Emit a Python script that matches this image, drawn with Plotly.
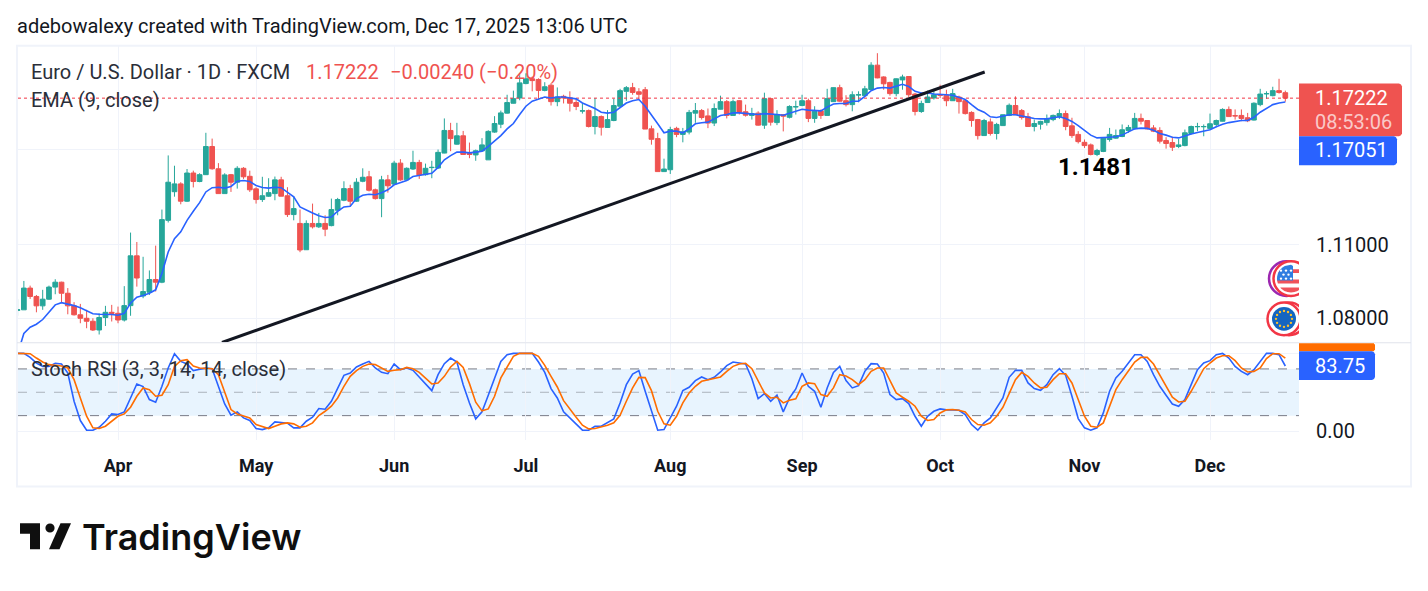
import math
import numpy as np
import pandas as pd
import plotly.graph_objects as go

# ---------------------------------------------------------------- data
dates = pd.bdate_range("2025-03-10", periods=203)
month_starts = ["2025-04-01", "2025-05-01", "2025-06-02", "2025-07-01", "2025-08-01",
                "2025-09-01", "2025-10-01", "2025-11-03", "2025-12-01"]
month_labels = ["Apr", "May", "Jun", "Jul", "Aug", "Sep", "Oct", "Nov", "Dec"]

opens = [
    1.0832, 1.0834, 1.0922, 1.0888, 1.0850, 1.0877, 1.0926, 1.0946, 1.0901, 1.0850,
    1.0814, 1.0800, 1.0788, 1.0753, 1.0803, 1.0824, 1.0820, 1.0793, 1.0851, 1.1054,
    1.0890, 1.0905, 1.0957, 1.0946, 1.1201, 1.1321, 1.1354, 1.1281, 1.1400, 1.1364,
    1.1393, 1.1513, 1.1418, 1.1313, 1.1393, 1.1361, 1.1420, 1.1386, 1.1333, 1.1288,
    1.1302, 1.1313, 1.1371, 1.1304, 1.1225, 1.1188, 1.1079, 1.1188, 1.1174, 1.1188,
    1.1179, 1.1243, 1.1285, 1.1334, 1.1281, 1.1365, 1.1384, 1.1329, 1.1292, 1.1371,
    1.1353, 1.1442, 1.1371, 1.1417, 1.1445, 1.1393, 1.1423, 1.1421, 1.1485, 1.1582,
    1.1523, 1.1559, 1.1484, 1.1477, 1.1494, 1.1456, 1.1575, 1.1609, 1.1657, 1.1700,
    1.1723, 1.1786, 1.1807, 1.1804, 1.1756, 1.1779, 1.1707, 1.1730, 1.1723, 1.1703,
    1.1666, 1.1668, 1.1599, 1.1642, 1.1595, 1.1625, 1.1687, 1.1752, 1.1768, 1.1750,
    1.1759, 1.1589, 1.1547, 1.1406, 1.1414, 1.1591, 1.1565, 1.1575, 1.1657, 1.1668,
    1.1645, 1.1614, 1.1674, 1.1707, 1.1647, 1.1711, 1.1663, 1.1647, 1.1657, 1.1605,
    1.1720, 1.1616, 1.1650, 1.1639, 1.1684, 1.1690, 1.1711, 1.1634, 1.1667, 1.1647,
    1.1707, 1.1768, 1.1711, 1.1694, 1.1736, 1.1733, 1.1760, 1.1867, 1.1815, 1.1791,
    1.1742, 1.1802, 1.1817, 1.1740, 1.1664, 1.1703, 1.1723, 1.1737, 1.1735, 1.1711,
    1.1727, 1.1711, 1.1660, 1.1629, 1.1560, 1.1619, 1.1569, 1.1603, 1.1647, 1.1690,
    1.1668, 1.1641, 1.1599, 1.1609, 1.1616, 1.1629, 1.1641, 1.1655, 1.1602, 1.1565,
    1.1531, 1.1520, 1.1479, 1.1492, 1.1543, 1.1549, 1.1556, 1.1582, 1.1591, 1.1634,
    1.1625, 1.1593, 1.1582, 1.1539, 1.1530, 1.1513, 1.1517, 1.1569, 1.1598, 1.1598,
    1.1591, 1.1608, 1.1622, 1.1673, 1.1646, 1.1647, 1.1637, 1.1627, 1.1694, 1.1741,
    1.1733, 1.1755, 1.1746,
]
highs = [
    1.0877, 1.0951, 1.0932, 1.0894, 1.0915, 1.0932, 1.0958, 1.0948, 1.0922, 1.0865,
    1.0858, 1.0834, 1.0800, 1.0820, 1.0850, 1.0854, 1.0847, 1.0930, 1.1150, 1.1111,
    1.1050, 1.0994, 1.1096, 1.1246, 1.1475, 1.1431, 1.1361, 1.1417, 1.1410, 1.1399,
    1.1572, 1.1547, 1.1442, 1.1399, 1.1396, 1.1429, 1.1425, 1.1410, 1.1340, 1.1384,
    1.1378, 1.1385, 1.1384, 1.1340, 1.1303, 1.1246, 1.1201, 1.1271, 1.1232, 1.1222,
    1.1292, 1.1295, 1.1365, 1.1350, 1.1378, 1.1420, 1.1409, 1.1334, 1.1388, 1.1392,
    1.1452, 1.1459, 1.1424, 1.1495, 1.1456, 1.1440, 1.1452, 1.1500, 1.1634, 1.1615,
    1.1615, 1.1580, 1.1530, 1.1500, 1.1549, 1.1583, 1.1644, 1.1668, 1.1737, 1.1755,
    1.1831, 1.1831, 1.1817, 1.1809, 1.1792, 1.1788, 1.1769, 1.1737, 1.1752, 1.1719,
    1.1701, 1.1673, 1.1723, 1.1647, 1.1670, 1.1720, 1.1763, 1.1775, 1.1789, 1.1766,
    1.1771, 1.1603, 1.1572, 1.1461, 1.1598, 1.1598, 1.1593, 1.1671, 1.1701, 1.1675,
    1.1677, 1.1699, 1.1733, 1.1714, 1.1716, 1.1714, 1.1694, 1.1680, 1.1665, 1.1746,
    1.1723, 1.1670, 1.1651, 1.1691, 1.1711, 1.1737, 1.1720, 1.1687, 1.1673, 1.1763,
    1.1769, 1.1781, 1.1735, 1.1752, 1.1752, 1.1776, 1.1880, 1.1920, 1.1818, 1.1794,
    1.1809, 1.1825, 1.1819, 1.1745, 1.1711, 1.1755, 1.1763, 1.1781, 1.1759, 1.1763,
    1.1733, 1.1716, 1.1665, 1.1632, 1.1632, 1.1634, 1.1615, 1.1651, 1.1699, 1.1730,
    1.1675, 1.1658, 1.1629, 1.1624, 1.1651, 1.1651, 1.1673, 1.1668, 1.1637, 1.1579,
    1.1543, 1.1526, 1.1503, 1.1553, 1.1593, 1.1586, 1.1608, 1.1606, 1.1658, 1.1655,
    1.1625, 1.1605, 1.1596, 1.1553, 1.1555, 1.1546, 1.1586, 1.1603, 1.1615, 1.1608,
    1.1655, 1.1629, 1.1678, 1.1686, 1.1673, 1.1673, 1.1658, 1.1704, 1.1763, 1.1752,
    1.1772, 1.1807, 1.1755,
]
lows = [
    1.0810, 1.0834, 1.0878, 1.0824, 1.0834, 1.0874, 1.0897, 1.0865, 1.0816, 1.0811,
    1.0780, 1.0760, 1.0749, 1.0735, 1.0769, 1.0787, 1.0780, 1.0787, 1.0810, 1.0928,
    1.0881, 1.0894, 1.0908, 1.0942, 1.1192, 1.1300, 1.1268, 1.1278, 1.1339, 1.1361,
    1.1392, 1.1414, 1.1313, 1.1313, 1.1320, 1.1334, 1.1375, 1.1320, 1.1271, 1.1278,
    1.1299, 1.1285, 1.1302, 1.1215, 1.1201, 1.1069, 1.1079, 1.1167, 1.1169, 1.1135,
    1.1176, 1.1222, 1.1281, 1.1260, 1.1278, 1.1361, 1.1322, 1.1288, 1.1214, 1.1317,
    1.1352, 1.1367, 1.1368, 1.1413, 1.1375, 1.1389, 1.1378, 1.1417, 1.1484, 1.1493,
    1.1521, 1.1477, 1.1463, 1.1452, 1.1491, 1.1456, 1.1572, 1.1592, 1.1655, 1.1699,
    1.1713, 1.1783, 1.1752, 1.1719, 1.1752, 1.1690, 1.1687, 1.1699, 1.1664, 1.1670,
    1.1655, 1.1595, 1.1565, 1.1560, 1.1593, 1.1622, 1.1683, 1.1711, 1.1737, 1.1716,
    1.1588, 1.1521, 1.1406, 1.1406, 1.1396, 1.1553, 1.1531, 1.1565, 1.1615, 1.1629,
    1.1592, 1.1601, 1.1673, 1.1634, 1.1647, 1.1651, 1.1642, 1.1629, 1.1603, 1.1589,
    1.1603, 1.1605, 1.1578, 1.1634, 1.1651, 1.1687, 1.1618, 1.1615, 1.1632, 1.1647,
    1.1707, 1.1706, 1.1686, 1.1665, 1.1704, 1.1730, 1.1759, 1.1809, 1.1759, 1.1733,
    1.1730, 1.1759, 1.1727, 1.1647, 1.1658, 1.1703, 1.1716, 1.1723, 1.1687, 1.1710,
    1.1655, 1.1651, 1.1598, 1.1543, 1.1560, 1.1560, 1.1543, 1.1602, 1.1644, 1.1650,
    1.1629, 1.1598, 1.1578, 1.1586, 1.1603, 1.1622, 1.1632, 1.1583, 1.1550, 1.1526,
    1.1507, 1.1475, 1.1472, 1.1489, 1.1534, 1.1546, 1.1553, 1.1572, 1.1586, 1.1608,
    1.1586, 1.1575, 1.1526, 1.1504, 1.1494, 1.1506, 1.1514, 1.1565, 1.1579, 1.1557,
    1.1586, 1.1596, 1.1621, 1.1641, 1.1629, 1.1622, 1.1618, 1.1625, 1.1687, 1.1719,
    1.1730, 1.1742, 1.1707,
]
closes = [
    1.0834, 1.0922, 1.0888, 1.0850, 1.0877, 1.0926, 1.0946, 1.0901, 1.0850, 1.0814,
    1.0800, 1.0788, 1.0753, 1.0803, 1.0824, 1.0820, 1.0793, 1.0851, 1.1054, 1.0963,
    1.0908, 1.0957, 1.0946, 1.1204, 1.1361, 1.1354, 1.1281, 1.1400, 1.1364, 1.1393,
    1.1513, 1.1418, 1.1313, 1.1392, 1.1361, 1.1420, 1.1384, 1.1329, 1.1288, 1.1304,
    1.1317, 1.1371, 1.1302, 1.1225, 1.1250, 1.1078, 1.1188, 1.1174, 1.1188, 1.1164,
    1.1246, 1.1288, 1.1334, 1.1281, 1.1361, 1.1382, 1.1327, 1.1292, 1.1371, 1.1346,
    1.1442, 1.1371, 1.1420, 1.1445, 1.1392, 1.1420, 1.1424, 1.1488, 1.1582, 1.1547,
    1.1559, 1.1479, 1.1479, 1.1495, 1.1520, 1.1578, 1.1612, 1.1658, 1.1703, 1.1720,
    1.1789, 1.1807, 1.1799, 1.1756, 1.1772, 1.1707, 1.1727, 1.1723, 1.1700, 1.1686,
    1.1667, 1.1599, 1.1642, 1.1596, 1.1629, 1.1690, 1.1755, 1.1768, 1.1747, 1.1739,
    1.1588, 1.1544, 1.1406, 1.1417, 1.1586, 1.1565, 1.1576, 1.1660, 1.1668, 1.1638,
    1.1614, 1.1677, 1.1707, 1.1647, 1.1707, 1.1661, 1.1648, 1.1655, 1.1605, 1.1720,
    1.1618, 1.1651, 1.1644, 1.1686, 1.1685, 1.1711, 1.1634, 1.1665, 1.1647, 1.1720,
    1.1768, 1.1709, 1.1694, 1.1737, 1.1737, 1.1763, 1.1867, 1.1811, 1.1785, 1.1742,
    1.1807, 1.1815, 1.1737, 1.1664, 1.1699, 1.1727, 1.1737, 1.1735, 1.1711, 1.1742,
    1.1707, 1.1655, 1.1625, 1.1560, 1.1625, 1.1569, 1.1608, 1.1650, 1.1691, 1.1650,
    1.1638, 1.1599, 1.1612, 1.1621, 1.1632, 1.1647, 1.1655, 1.1599, 1.1560, 1.1534,
    1.1517, 1.1479, 1.1496, 1.1549, 1.1565, 1.1560, 1.1585, 1.1595, 1.1634, 1.1622,
    1.1589, 1.1579, 1.1536, 1.1526, 1.1510, 1.1520, 1.1572, 1.1599, 1.1599, 1.1599,
    1.1611, 1.1625, 1.1673, 1.1642, 1.1645, 1.1634, 1.1624, 1.1700, 1.1740, 1.1742,
    1.1755, 1.1747, 1.17222,
]
ema_9 = [
    1.0658, 1.0739, 1.0764, 1.0776, 1.0795, 1.0824, 1.0854, 1.0863, 1.0858, 1.0851,
    1.0842, 1.0830, 1.0818, 1.0816, 1.0816, 1.0815, 1.0812, 1.0820, 1.0861, 1.0885,
    1.0892, 1.0901, 1.0915, 1.0982, 1.1070, 1.1125, 1.1153, 1.1201, 1.1239, 1.1275,
    1.1320, 1.1338, 1.1340, 1.1336, 1.1343, 1.1365, 1.1368, 1.1364, 1.1347, 1.1339,
    1.1336, 1.1340, 1.1338, 1.1320, 1.1299, 1.1257, 1.1243, 1.1232, 1.1220, 1.1213,
    1.1215, 1.1239, 1.1257, 1.1260, 1.1292, 1.1306, 1.1310, 1.1308, 1.1317, 1.1329,
    1.1350, 1.1359, 1.1368, 1.1385, 1.1389, 1.1392, 1.1399, 1.1424, 1.1456, 1.1474,
    1.1489, 1.1489, 1.1486, 1.1489, 1.1493, 1.1514, 1.1536, 1.1560, 1.1589, 1.1612,
    1.1651, 1.1687, 1.1709, 1.1719, 1.1727, 1.1723, 1.1727, 1.1727, 1.1723, 1.1719,
    1.1701, 1.1690, 1.1677, 1.1661, 1.1657, 1.1661, 1.1683, 1.1701, 1.1711, 1.1716,
    1.1687, 1.1651, 1.1611, 1.1572, 1.1579, 1.1579, 1.1572, 1.1589, 1.1611, 1.1615,
    1.1618, 1.1632, 1.1647, 1.1651, 1.1658, 1.1658, 1.1655, 1.1651, 1.1651, 1.1655,
    1.1654, 1.1651, 1.1648, 1.1657, 1.1665, 1.1674, 1.1670, 1.1668, 1.1667, 1.1683,
    1.1697, 1.1699, 1.1699, 1.1709, 1.1709, 1.1730, 1.1755, 1.1766, 1.1769, 1.1766,
    1.1776, 1.1783, 1.1773, 1.1752, 1.1745, 1.1745, 1.1740, 1.1737, 1.1737, 1.1735,
    1.1727, 1.1716, 1.1694, 1.1673, 1.1661, 1.1641, 1.1638, 1.1644, 1.1650, 1.1650,
    1.1644, 1.1637, 1.1634, 1.1632, 1.1632, 1.1637, 1.1641, 1.1634, 1.1621, 1.1603,
    1.1583, 1.1562, 1.1550, 1.1550, 1.1553, 1.1555, 1.1562, 1.1576, 1.1589, 1.1592,
    1.1591, 1.1583, 1.1569, 1.1562, 1.1553, 1.1550, 1.1559, 1.1567, 1.1573, 1.1578,
    1.1585, 1.1598, 1.1609, 1.1616, 1.1621, 1.1625, 1.1625, 1.1639, 1.1661, 1.1678,
    1.1694, 1.1701, 1.17051,
]
stoch_k = [
    100, 100, 94.9, 87.6, 83.3, 83.3, 87.2, 86.3, 74.8, 38.5,
    13.7, 1.3, 1.3, 5.1, 12.8, 22.2, 21.4, 24.8, 42.7, 60.7,
    57.3, 40.6, 37.2, 57.7, 81.2, 99.6, 89.7, 86.3, 77.8, 79.9,
    81.2, 80.3, 57.7, 35, 20.5, 24.8, 17.1, 13.7, 3.4, 2.1,
    4.3, 12, 11.1, 10.3, 4.3, 4.3, 12.8, 17.9, 29.1, 28.2,
    38.5, 55.6, 71.8, 74.8, 82.5, 86.3, 89.7, 81.2, 75.6, 73.9,
    86.3, 79.1, 81.2, 78.2, 69.2, 60.7, 52.1, 72.6, 86.8, 94,
    88.9, 59.8, 36.3, 15.8, 24.8, 46.2, 67.5, 89.7, 98.3, 100,
    100, 100, 100, 88.9, 75.6, 54.7, 42.7, 24.8, 17.1, 8.5,
    1.3, 1.3, 6.4, 6.4, 10.7, 15.8, 36.3, 59.8, 73.5, 77.8,
    51.3, 26.5, 1.3, 2.1, 17.1, 32.1, 52.1, 56.4, 65, 69.7,
    66.2, 69.2, 76.1, 84.2, 88.9, 87.2, 86.3, 67.5, 41.9, 48.3,
    38.5, 46.2, 24.8, 42.7, 54.3, 74.8, 57.7, 51.3, 30.8, 55.6,
    75.6, 83.3, 65, 55.6, 58.5, 76.9, 86.8, 86.3, 74.8, 47,
    40.6, 41.9, 35.5, 19.2, 6.4, 19.2, 25.6, 28.6, 27.4, 27.4,
    26.9, 21.4, 8.5, 1.3, 10.7, 17.1, 29.9, 42.7, 69.2, 78.2,
    78.2, 62, 54.7, 52.6, 59.8, 72.6, 80.3, 71.8, 44.9, 16.2,
    4.3, 1.3, 4.3, 23.5, 51.3, 68.4, 76.9, 87.6, 98.3, 98.3,
    89.7, 72.6, 57.7, 46.2, 35, 32.1, 40.6, 59.8, 79.1, 87.6,
    90.6, 98.3, 100, 94, 83.3, 76.9, 72.6, 79.1, 88.9, 100,
    100, 98.3, 83.75,
]
stoch_d = [
    100, 100, 99.6, 94, 88.9, 85.5, 84.6, 83.8, 81.2, 66.2,
    42.7, 19.2, 4.3, 3.4, 6.4, 12.8, 19.2, 22.2, 30.8, 44.9,
    55.6, 53.4, 44.9, 46.2, 59.8, 83.3, 90.6, 91.9, 83.8, 81.2,
    80.3, 80.3, 72.6, 51.3, 27.8, 22.2, 19.2, 17.1, 8.5, 5.6,
    3.4, 6.4, 9.4, 10.7, 9.4, 5.1, 6.4, 10.7, 20.1, 25.6,
    32.1, 42.7, 57.7, 70.5, 77.8, 83.3, 86.3, 85.5, 81.2, 76.9,
    78.2, 79.1, 82, 80.3, 75.6, 68.4, 60.7, 62, 70.5, 82.5,
    89.7, 82, 61.1, 37.2, 26.1, 28.6, 44.9, 68.4, 83.3, 96.2,
    100, 100, 100, 96.2, 84.6, 70.5, 56.8, 39.3, 27.8, 17.9,
    7.7, 3, 3.4, 5.1, 7.7, 10.7, 20.5, 38.5, 55.6, 69.2,
    68.8, 52.1, 25.6, 9.4, 7.7, 19.2, 36.3, 49.1, 57.7, 64.1,
    66.2, 67.5, 69.7, 76.9, 83.3, 86.3, 87.2, 80.3, 64.1, 49.1,
    42.7, 43.6, 36.3, 39.7, 41.5, 57.7, 62, 61.1, 47, 44.9,
    55.6, 72.6, 71, 66.2, 59.8, 66.2, 76.9, 81.2, 81.2, 64.1,
    49.1, 43.6, 38.5, 32.1, 19.2, 13.7, 15, 23.5, 27.4, 27.8,
    26.9, 24.8, 15, 8.5, 7.7, 10.7, 19.2, 30.8, 49.1, 66.2,
    75.6, 70.5, 62, 55.6, 56.4, 66.2, 73.9, 73.9, 62, 40.6,
    19.2, 6.4, 5.1, 10.7, 32.1, 53.4, 66.2, 77.8, 88.9, 94.9,
    94.9, 86.3, 71.8, 57.7, 43.6, 37.6, 38.5, 51.3, 66.2, 80.3,
    87.6, 94, 97, 97, 90.6, 81.2, 76.1, 76.9, 81.2, 93.2,
    99.6, 99.6, 94,
]
series = dict(opens=opens, highs=highs, lows=lows, closes=closes,
              ema_9=ema_9, stoch_k=stoch_k, stoch_d=stoch_d)
for name, values in series.items():
    assert len(values) == len(dates), f"{name}: {len(values)}"

price_ticks = [1.08, 1.11, 1.15]
price_tick_text = ["1.08000", "1.11000", ""]
trend_bars = [32.57, 154.1]
trend_prices = [1.0703, 1.1837]
last_price = 1.17222
last_ema = 1.17051
last_k = 83.75

# ---------------------------------------------------------------- page geometry
W, H = 1428, 591
PLOT_L, PLOT_R = 18, 1299
PRICE_T, PRICE_B = 46, 344
OSC_T, OSC_B = 345, 442

INK = "#131722"
UP, DOWN = "#26a69a", "#ef5350"
BLUE, ORANGE = "#2962ff", "#ff6d00"
GRID = "#f0f3fa"
FONT = "Roboto"


def px(x):
    return x / W


def py(y):
    return 1 - y / H


bars = np.arange(len(dates))
labels_by_date = list(dates.strftime("%Y-%m-%d"))
tick_bars = [labels_by_date.index(d) for d in month_starts]
x_range = [0.066, 204.18]

fig = go.Figure()
fig.add_trace(go.Candlestick(
    x=bars, open=opens, high=highs, low=lows, close=closes,
    increasing=dict(line=dict(color=UP, width=1), fillcolor=UP),
    decreasing=dict(line=dict(color=DOWN, width=1), fillcolor=DOWN),
    whiskerwidth=0, showlegend=False, xaxis="x", yaxis="y",
))
fig.add_trace(go.Scatter(x=[x_range[0], x_range[1]], y=[last_price, last_price], mode="lines",
                         line=dict(color="#f23645", width=1, dash="dot"),
                         showlegend=False, xaxis="x", yaxis="y"))
fig.add_trace(go.Scatter(x=bars, y=ema_9, mode="lines", line=dict(color=BLUE, width=1.6),
                         showlegend=False, xaxis="x", yaxis="y"))
fig.add_trace(go.Scatter(x=trend_bars, y=trend_prices, mode="lines",
                         line=dict(color=INK, width=3), showlegend=False, xaxis="x", yaxis="y"))
fig.add_trace(go.Scatter(x=bars, y=stoch_k, mode="lines", line=dict(color=BLUE, width=1.6),
                         showlegend=False, xaxis="x2", yaxis="y2"))
fig.add_trace(go.Scatter(x=bars, y=stoch_d, mode="lines", line=dict(color=ORANGE, width=1.6),
                         showlegend=False, xaxis="x2", yaxis="y2"))

shapes = []
annotations = []


def paper_shape(**kw):
    shapes.append(dict(xref="paper", yref="paper", **kw))


def rect(x0, y0, x1, y1, fill, layer="above", line=None):
    paper_shape(type="rect", x0=px(x0), x1=px(x1), y0=py(y0), y1=py(y1), fillcolor=fill,
                line=line or dict(width=0), layer=layer)


def poly(points, fill, layer="above"):
    d = "M " + " L ".join(f"{px(a):.5f} {py(b):.5f}" for a, b in points) + " Z"
    paper_shape(type="path", path=d, fillcolor=fill, line=dict(width=0), layer=layer)


def circle(cx, cy, r, fill="rgba(0,0,0,0)", line_color=None, line_width=0):
    paper_shape(type="circle", x0=px(cx - r), x1=px(cx + r), y0=py(cy + r), y1=py(cy - r),
                fillcolor=fill, line=dict(color=line_color or "rgba(0,0,0,0)", width=line_width),
                layer="above")


def disc_band(cx, cy, r, top, bottom, fill, x_max=None):
    """Polygon for the part of a disc lying between two horizontal lines."""
    ys = np.linspace(top, bottom, 12)
    half = np.sqrt(np.maximum(r * r - (ys - cy) ** 2, 0))
    left = cx - half
    right = cx + half if x_max is None else np.minimum(cx + half, x_max)
    poly(list(zip(left, ys)) + list(zip(right[::-1], ys[::-1])), fill)


def tag(x0, y0, x1, y1, fill, radius=3):
    r_x, r_y = radius, radius
    pts = [(x0, y0), (x1 - r_x, y0), (x1 - 1, y0 + 1), (x1, y0 + r_y),
           (x1, y1 - r_y), (x1 - 1, y1 - 1), (x1 - r_x, y1), (x0, y1)]
    poly(pts, fill)


def text(x, y, s, size, color=INK, weight=400, anchor="left", family=FONT):
    annotations.append(dict(
        xref="paper", yref="paper", x=px(x), y=py(y), text=s, showarrow=False,
        xanchor=anchor, yanchor="middle", borderpad=0, borderwidth=0,
        font=dict(family=family, size=size, color=color, weight=weight),
    ))


# frame and pane separator
rect(17, 46, 1411, 489, "rgba(0,0,0,0)", layer="below", line=dict(color=GRID, width=2))
paper_shape(type="line", x0=px(17), x1=px(1411), y0=py(344.5), y1=py(344.5),
            line=dict(color="#e0e3eb", width=1), layer="above")

# overbought / oversold band of the oscillator
shapes.append(dict(type="rect", xref="paper", yref="y2", x0=px(PLOT_L), x1=px(PLOT_R), y0=20, y1=80,
                   fillcolor="rgba(33,150,243,0.1)", line=dict(width=0), layer="below"))
for level, colour in [(80, "#787b86"), (50, "rgba(120,123,134,0.55)"), (20, "#787b86")]:
    shapes.append(dict(type="line", xref="paper", yref="y2", x0=px(PLOT_L), x1=px(PLOT_R),
                       y0=level, y1=level, line=dict(color=colour, width=1, dash="dash"),
                       layer="below"))

# currency badges, cut off by the price scale
circle(1286.5, 280, 17.5, fill="#ffffff", line_color="#9c27b0", line_width=2.5)
circle(1291, 280, 17.5, fill="#ffffff", line_color="#f23645", line_width=2.5)
circle(1291, 280, 14, fill="#ffffff")
for top, bottom in [(270.5, 274.5), (281, 285), (289, 294)]:
    disc_band(1291, 280, 14, top, bottom, "#f0525a")
disc_band(1291, 280, 14, 266, 282, "#2f7de1", x_max=1293)
for sx, sy in [(1281, 272), (1286, 272), (1291, 272), (1283.5, 276), (1288.5, 276),
               (1281, 280), (1286, 280), (1291, 280)]:
    circle(sx, sy, 1.2, fill="#ffffff")
circle(1289, 320.5, 16.5, fill="#ffffff", line_color="#f23645", line_width=2.5)
circle(1284, 320.5, 16.5, fill="#ffffff", line_color="#f23645", line_width=2.5)
circle(1284, 320.5, 12, fill="#1565c0")
for k in range(12):
    a = math.radians(30 * k)
    circle(1284 + 8 * math.cos(a), 320.5 + 8 * math.sin(a), 1.2, fill="#fbc02d")
rect(1299, 255, 1312, 344, "#ffffff")

# price scale tags
tag(1299, 84, 1402, 137, DOWN)
tag(1299, 137, 1397, 166, BLUE)
tag(1299, 345, 1375, 353, ORANGE, radius=1)
tag(1299, 353, 1375, 382, BLUE)
text(1315, 99, f"{last_price:.5f}", 20, "#ffffff")
text(1315, 123, "08:53:06", 20, "rgba(255,255,255,0.7)")
text(1315, 151, f"{last_ema:.5f}", 20, "#ffffff")
text(1315, 368, f"{last_k:.2f}", 20, "#ffffff")

# header and pane legends
text(17, 26, "adebowalexy created with TradingView.com, Dec 17, 2025 13:06 UTC", 20)
text(31, 72, "Euro / U.S. Dollar · 1D · FXCM", 20, "#2a2e39")
text(306, 72, "1.17222", 20, DOWN)
text(390, 72, "−0.00240 (−0.20%)", 20, DOWN)
text(31, 101, "EMA (9, close)", 20, "#2a2e39")
text(31, 371, "Stoch RSI (3, 3, 14, 14, close)", 20, "#2a2e39")
text(1058, 168, "1.1481", 24, "#000000", 700)

# brand mark
BRAND = "#0f0f0f"
poly([(20, 526), (40, 526), (40, 552), (30, 552), (30, 536.5), (20, 536.5)], BRAND)
circle(50, 530.7, 4.6, fill=BRAND)
poly([(60.5, 526), (71, 526), (59.5, 552), (49, 552)], BRAND)
text(82, 540, "TradingView", 36, BRAND, 600, family="Inter")

axis_common = dict(
    range=x_range, domain=[px(PLOT_L), px(PLOT_R)], tickmode="array", tickvals=tick_bars,
    showgrid=True, gridcolor=GRID, gridwidth=1, zeroline=False, showline=False, ticks="",
)
fig.update_layout(
    width=W, height=H, autosize=False,
    margin=dict(l=0, r=0, t=0, b=0, pad=0),
    paper_bgcolor="#ffffff", plot_bgcolor="#ffffff",
    font=dict(family=FONT, color=INK),
    boxgap=0.25, boxgroupgap=0,
    showlegend=False, hovermode=False,
    xaxis=dict(anchor="y", showticklabels=False, rangeslider=dict(visible=False), **axis_common),
    xaxis2=dict(anchor="y2", matches="x", ticktext=month_labels, showticklabels=True,
                tickfont=dict(family=FONT, size=18, color=INK, weight=700),
                ticklabelstandoff=13, **axis_common),
    yaxis=dict(type="log", domain=[py(PRICE_B), py(PRICE_T)],
               range=[math.log10(1.0704), math.log10(1.1953)],
               anchor="x", side="right", tickmode="array", tickvals=price_ticks,
               ticktext=price_tick_text, showgrid=True, gridcolor=GRID, zeroline=False,
               showline=False, ticks="", ticklabelstandoff=16,
               tickfont=dict(family=FONT, size=20, color=INK)),
    yaxis2=dict(domain=[py(OSC_B), py(OSC_T)], range=[-11, 113], anchor="x2", side="right",
                tickmode="array", tickvals=[0, 100], ticktext=["0.00", ""], showgrid=True,
                gridcolor=GRID, zeroline=False, showline=False, ticks="", ticklabelstandoff=16,
                tickfont=dict(family=FONT, size=20, color=INK)),
    shapes=shapes, annotations=annotations,
)

fig.write_html("out.html", config=dict(displayModeBar=False))
